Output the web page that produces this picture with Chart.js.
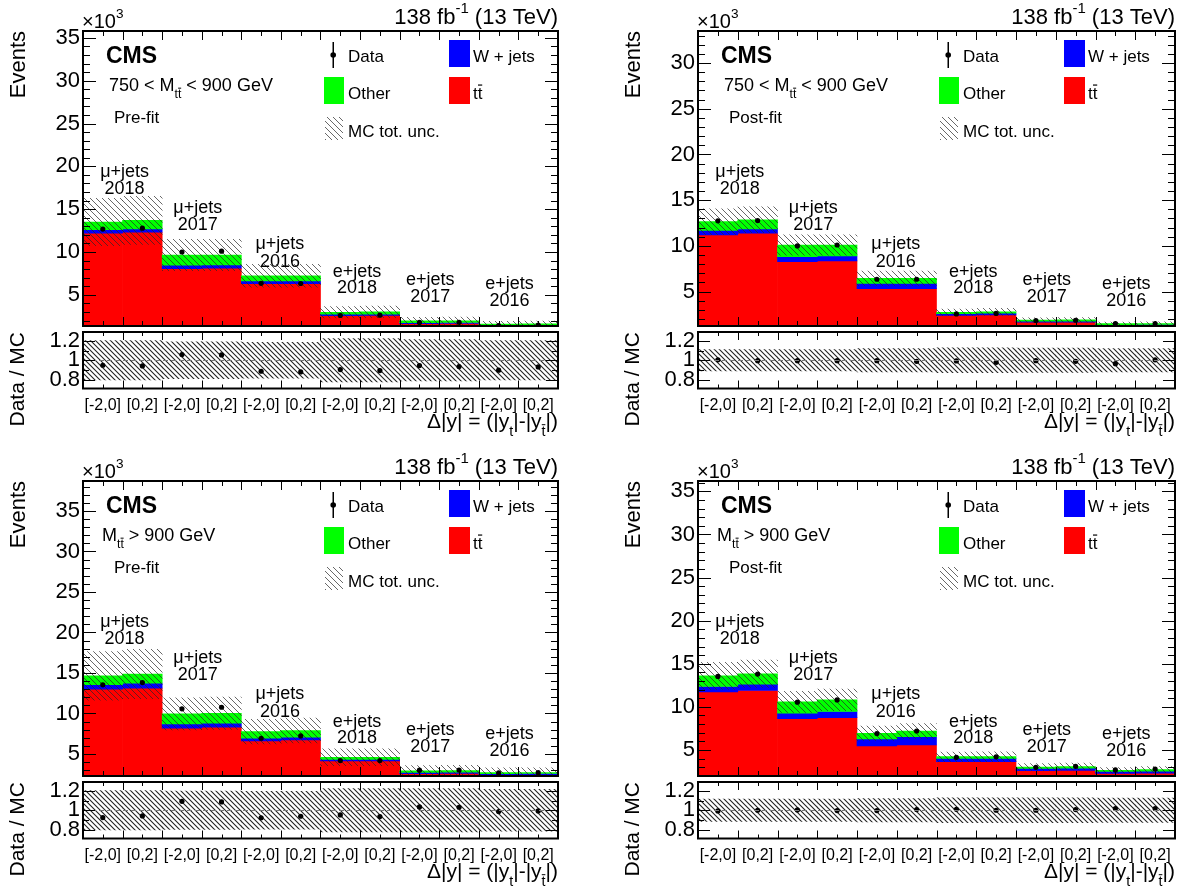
<!DOCTYPE html>
<html>
<head>
<meta charset="utf-8">
<title>Delta|y| pre-fit / post-fit</title>
<script src="https://cdn.jsdelivr.net/npm/chart.js@4.4.1/dist/chart.umd.min.js"></script>
<style>
  body { margin: 0; background: #fff; }
  #wrap { position: relative; width: 1188px; height: 889px; overflow: hidden; }
  canvas { position: absolute; }
</style>
</head>
<body>
<div id="wrap"></div>
<script>
// bins: Delta|y| ranges, two per channel/year block
const bins = ['[-2,0]', '[0,2]', '[-2,0]', '[0,2]', '[-2,0]', '[0,2]',
              '[-2,0]', '[0,2]', '[-2,0]', '[0,2]', '[-2,0]', '[0,2]'];
const chanName = ['μ+jets', 'μ+jets', 'μ+jets', 'e+jets', 'e+jets', 'e+jets'];
const chanYear = ['2018', '2017', '2016', '2018', '2017', '2016'];

// yields in 10^3 events
// 750 < M_tt < 900 GeV, pre-fit
const ttPre750    = [12.2, 12.3, 8.05, 8.1, 6.3, 6.3, 2.57, 2.6, 1.63, 1.65, 1.40, 1.42];
const wjPre750    = [0.4, 0.4, 0.4, 0.4, 0.32, 0.32, 0.16, 0.15, 0.12, 0.12, 0.08, 0.08];
const otherPre750 = [0.9, 1.0, 1.2, 1.15, 0.6, 0.6, 0.24, 0.25, 0.2, 0.2, 0.1, 0.1];
const dataPre750  = [12.68, 12.78, 10.0, 10.09, 6.34, 6.32, 2.6, 2.62, 1.78, 1.8, 1.42, 1.46];
const ratioPre750 = [0.948, 0.941, 1.059, 1.055, 0.886, 0.879, 0.903, 0.893, 0.945, 0.934, 0.897, 0.931];
const uncPre750   = [0.205, 0.205, 0.19, 0.19, 0.185, 0.185, 0.225, 0.225, 0.215, 0.215, 0.205, 0.205];

// 750 < M_tt < 900 GeV, post-fit
const ttPost750    = [11.2, 11.4, 8.28, 8.36, 5.33, 5.33, 2.41, 2.45, 1.65, 1.66, 1.28, 1.29];
const wjPost750    = [0.5, 0.45, 0.55, 0.54, 0.58, 0.58, 0.18, 0.18, 0.11, 0.11, 0.11, 0.11];
const otherPost750 = [0.96, 1.0, 1.27, 1.2, 0.55, 0.55, 0.15, 0.17, 0.14, 0.14, 0.11, 0.11];
const dataPost750  = [12.74, 12.77, 10.0, 10.1, 6.35, 6.35, 2.56, 2.62, 1.84, 1.87, 1.5, 1.5];
const ratioPost750 = [1.004, 0.996, 0.996, 0.996, 0.996, 0.989, 0.993, 0.978, 0.996, 0.989, 0.964, 1.004];
const uncPost750   = [0.11, 0.11, 0.11, 0.11, 0.12, 0.12, 0.13, 0.13, 0.125, 0.125, 0.12, 0.12];

// M_tt > 900 GeV, pre-fit
const ttPre900    = [13.0, 13.12, 8.18, 8.3, 6.6, 6.73, 4.13, 4.13, 2.58, 2.6, 2.40, 2.42];
const wjPre900    = [0.54, 0.62, 0.53, 0.49, 0.34, 0.33, 0.21, 0.21, 0.15, 0.15, 0.17, 0.17];
const otherPre900 = [1.11, 1.12, 1.24, 1.24, 0.82, 0.83, 0.25, 0.25, 0.19, 0.19, 0.12, 0.12];
const dataPre900  = [13.54, 13.82, 10.57, 10.77, 6.94, 7.23, 4.18, 4.18, 3.0, 3.02, 2.66, 2.69];
const ratioPre900 = [0.924, 0.941, 1.093, 1.086, 0.921, 0.938, 0.952, 0.934, 1.034, 1.031, 0.986, 0.993];
const uncPre900   = [0.205, 0.205, 0.2, 0.2, 0.195, 0.195, 0.225, 0.225, 0.225, 0.225, 0.217, 0.217];

// M_tt > 900 GeV, post-fit
const ttPost900    = [11.74, 11.9, 8.64, 8.76, 5.47, 5.58, 3.64, 3.64, 2.6, 2.63, 2.29, 2.3];
const wjPost900    = [0.62, 0.74, 0.62, 0.7, 0.81, 0.97, 0.39, 0.39, 0.27, 0.27, 0.23, 0.23];
const otherPost900 = [1.24, 1.2, 1.32, 1.35, 0.66, 0.65, 0.19, 0.2, 0.15, 0.17, 0.12, 0.19];
const dataPost900  = [13.53, 13.8, 10.54, 10.81, 6.9, 7.2, 4.15, 4.2, 2.99, 3.1, 2.68, 2.79];
const ratioPost900 = [0.993, 1.0, 1.003, 0.997, 0.997, 1.007, 1.01, 1.0, 1.0, 1.007, 1.017, 1.017];
const uncPost900   = [0.115, 0.115, 0.115, 0.115, 0.12, 0.12, 0.13, 0.13, 0.13, 0.13, 0.125, 0.125];

const FONT = '"Liberation Sans", Arial, Helvetica, sans-serif';
Chart.defaults.font.family = FONT;
Chart.defaults.color = '#000';

const panels = [
  { left: 0,   top: 0,   w: 594, tt: ttPre750,  wj: wjPre750,  other: otherPre750,  data: dataPre750,  ratio: ratioPre750,  unc: uncPre750,  yMin: 1.36, yMax: 35.8, fit: 'Pre-fit',  high: false },
  { left: 615, top: 0,   w: 596, tt: ttPost750, wj: wjPost750, other: otherPost750, data: dataPost750, ratio: ratioPost750, unc: uncPost750, yMin: 1.24, yMax: 33.5, fit: 'Post-fit', high: false },
  { left: 0,   top: 450, w: 594, tt: ttPre900,  wj: wjPre900,  other: otherPre900,  data: dataPre900,  ratio: ratioPre900,  unc: uncPre900,  yMin: 2.28, yMax: 38.7, fit: 'Pre-fit',  high: true },
  { left: 615, top: 450, w: 596, tt: ttPost900, wj: wjPost900, other: otherPost900, data: dataPost900, ratio: ratioPost900, unc: uncPost900, yMin: 1.98, yMax: 36.2, fit: 'Post-fit', high: true }
];

// "\\\\" hatching like ROOT fill style 3004
function hatchPattern(color, gap, lw) {
  const c = document.createElement('canvas');
  c.width = c.height = gap;
  const g = c.getContext('2d');
  g.strokeStyle = color;
  g.lineWidth = lw;
  g.beginPath();
  g.moveTo(-1, -1); g.lineTo(gap + 1, gap + 1);
  g.moveTo(-1, gap - 1); g.lineTo(1, gap + 1);
  g.moveTo(gap - 1, -1); g.lineTo(gap + 1, 1);
  g.stroke();
  return g.createPattern(c, 'repeat');
}
const hatchMain = hatchPattern('rgba(40,40,40,0.7)', 6, 1);
const hatchRatio = hatchPattern('#222', 5, 1.1);

// small rich-text helper: sub/superscripts and overbars
function rich(ctx, x, y, parts, size, align, bold) {
  const font = s => (bold ? 'bold ' : '') + s + 'px ' + FONT;
  const items = parts.map(p => typeof p === 'string' ? { t: p } : Object.assign({}, p));
  let w = 0;
  items.forEach(it => {
    it.s = (it.sub || it.sup) ? size * 0.68 : size;
    ctx.font = font(it.s);
    it.w = ctx.measureText(it.t).width;
    w += it.w;
  });
  let cx = align === 'right' ? x - w : align === 'center' ? x - w / 2 : x;
  ctx.textAlign = 'left';
  ctx.textBaseline = 'alphabetic';
  items.forEach(it => {
    ctx.font = font(it.s);
    const dy = it.sub ? size * 0.4 : it.sup ? -size * 0.5 : 0;
    ctx.fillText(it.t, cx, y + dy);
    if (it.bar) {
      const by = y + dy - it.s * 0.82;
      ctx.save();
      ctx.lineWidth = Math.max(1, it.s * 0.07);
      ctx.strokeStyle = ctx.fillStyle;
      ctx.beginPath();
      ctx.moveTo(cx + it.w * 0.05, by);
      ctx.lineTo(cx + it.w * 0.95, by);
      ctx.stroke();
      ctx.restore();
    }
    cx += it.w;
  });
}

function drawTicks(chart, o) {
  const { ctx, chartArea: a, scales: { x, y } } = chart;
  ctx.save();
  ctx.strokeStyle = '#000';
  ctx.lineWidth = 1;
  ctx.beginPath();
  const n0 = Math.ceil(y.min / o.minor - 1e-9), n1 = Math.floor(y.max / o.minor + 1e-9);
  for (let n = n0; n <= n1; n++) {
    const v = n * o.minor;
    const major = Math.abs(v / o.major - Math.round(v / o.major)) < 1e-6;
    const len = major ? o.yMaj : o.yMin;
    const py = Math.round(y.getPixelForValue(v)) + 0.5;
    ctx.moveTo(a.left, py); ctx.lineTo(a.left + len, py);
    ctx.moveTo(a.right, py); ctx.lineTo(a.right - len, py);
  }
  const half = (x.getPixelForValue(1) - x.getPixelForValue(0)) / 2;
  for (let i = 0; i < bins.length; i++) {
    const c = x.getPixelForValue(i);
    const marks = [[c, o.xMin]];
    if (i > 0) marks.push([c - half, o.xMaj]);
    marks.forEach(([px, len]) => {
      px = Math.round(px) + 0.5;
      ctx.moveTo(px, a.bottom); ctx.lineTo(px, a.bottom - len);
      ctx.moveTo(px, a.top); ctx.lineTo(px, a.top + len);
    });
  }
  ctx.stroke();
  ctx.lineWidth = 2;
  ctx.strokeRect(a.left, a.top, a.right - a.left, a.bottom - a.top);
  ctx.restore();
}

function fitTicks(step) {
  return s => {
    s.ticks = s.ticks.filter(t => Math.abs(t.value / step - Math.round(t.value / step)) < 1e-6);
  };
}

// fixed axis width, and no extra label padding around the plot area
function fixWidth(s) {
  s.width = 83;
  s.paddingTop = 0;
  s.paddingBottom = 0;
}

const TT = ['t', { t: 't', bar: true }];
const TTsub = [{ t: 't', sub: true }, { t: 't', sub: true, bar: true }];

function mainDecor(p) {
  return {
    id: 'mainDecor',
    afterDatasetsDraw(chart) {
      drawTicks(chart, { minor: 1, major: 5, yMaj: 13, yMin: 7, xMaj: 9, xMin: 5 });
    },
    afterDraw(chart) {
      const ctx = chart.ctx, a = chart.chartArea, L = a.left, T = a.top, R = a.right;
      ctx.save();
      ctx.fillStyle = '#000';
      rich(ctx, L - 1, T - 3, ['×10', { t: '3', sup: true }], 20);
      rich(ctx, R, T - 7, ['138 fb', { t: '-1', sup: true }, ' (13 TeV)'], 22, 'right');
      rich(ctx, L + 23, T + 32, ['CMS'], 23, 'left', true);
      const mass = p.high ? ['M'].concat(TTsub, [' > 900 GeV']) : ['750 < M'].concat(TTsub, [' < 900 GeV']);
      rich(ctx, L + (p.high ? 19 : 26), T + 60, mass, 18);
      rich(ctx, L + 31, T + 92, [p.fit], 17);

      // legend
      ctx.fillStyle = '#000';
      ctx.fillRect(L + 249.5, T + 11, 1.5, 26);
      ctx.beginPath(); ctx.arc(L + 250.2, T + 24, 2.8, 0, Math.PI * 2); ctx.fill();
      rich(ctx, L + 265, T + 31, ['Data'], 17);
      ctx.fillStyle = '#0000ff'; ctx.fillRect(L + 366, T + 9, 21, 27);
      ctx.fillStyle = '#000'; rich(ctx, L + 390, T + 31, ['W + jets'], 17);
      ctx.fillStyle = '#00ff00'; ctx.fillRect(L + 241, T + 46, 20, 27);
      ctx.fillStyle = '#000'; rich(ctx, L + 265, T + 68, ['Other'], 17);
      ctx.fillStyle = '#ff0000'; ctx.fillRect(L + 366, T + 46, 21, 27);
      ctx.fillStyle = '#000'; rich(ctx, L + 390, T + 68, TT, 17);
      ctx.fillStyle = hatchMain; ctx.fillRect(L + 242, T + 86, 18, 23);
      ctx.fillStyle = '#000'; rich(ctx, L + 265, T + 106, ['MC tot. unc.'], 17);

      // channel / year labels above each pair of bins
      const x = chart.scales.x;
      const dx = [2, -4, -1, -3, -9, -9];
      const ly = [[141, 158], [177, 194], [213, 231], [241, 257], [249, 266], [253, 270]];
      ctx.textAlign = 'center';
      ctx.textBaseline = 'middle';
      ctx.font = '18px ' + FONT;
      chanName.forEach((n, k) => {
        const cx = (x.getPixelForValue(2 * k) + x.getPixelForValue(2 * k + 1)) / 2 + dx[k];
        ctx.fillText(n, cx, T + ly[k][0]);
        ctx.fillText(chanYear[k], cx, T + ly[k][1]);
      });
      ctx.restore();
    }
  };
}

const ratioDecor = {
  id: 'ratioDecor',
  afterDatasetsDraw(chart) {
    const { ctx, chartArea: a, scales: { y } } = chart;
    ctx.save();
    ctx.strokeStyle = '#777';
    ctx.lineWidth = 1;
    ctx.setLineDash([5, 3]);
    const py = Math.round(y.getPixelForValue(1)) + 0.5;
    ctx.beginPath(); ctx.moveTo(a.left, py); ctx.lineTo(a.right, py); ctx.stroke();
    ctx.restore();
    drawTicks(chart, { minor: 0.1, major: 0.2, yMaj: 12, yMin: 6, xMaj: 8, xMin: 4 });
  },
  afterDraw(chart) {
    const { ctx, chartArea: a } = chart;
    ctx.save();
    ctx.fillStyle = '#000';
    rich(ctx, a.right, a.top + 96, ['Δ|y| = (|y', { t: 't', sub: true }, '|-|y'].concat(TTsub.slice(1), ['|)']), 21, 'right');
    ctx.restore();
  }
};

const barOpts = { grouped: false, barPercentage: 1, categoryPercentage: 1, borderWidth: 0 };
const wrap = document.getElementById('wrap');

function makeCanvas(left, top, w, h) {
  const c = document.createElement('canvas');
  c.width = w; c.height = h;
  c.style.left = left + 'px';
  c.style.top = top + 'px';
  wrap.appendChild(c);
  return c;
}

panels.forEach(p => {
  const tot = p.tt.map((v, i) => v + p.wj[i] + p.other[i]);
  const padRight = p.w - 83 - (p.w === 594 ? 475 : 477);

  new Chart(makeCanvas(p.left, p.top, p.w, 330), {
    type: 'bar',
    data: {
      labels: bins,
      datasets: [
        { type: 'line', label: 'Data', data: p.data, showLine: false, pointRadius: 2.6,
          pointBackgroundColor: '#000', pointBorderWidth: 0, order: 0 },
        { label: 'MC tot. unc.', data: tot.map((t, i) => [t * (1 - p.unc[i]), t * (1 + p.unc[i])]),
          backgroundColor: hatchMain, order: 1 },
        { label: 'Other', data: tot.map((t, i) => [t - p.other[i], t]), backgroundColor: '#00ff00', order: 2 },
        { label: 'W + jets', data: p.tt.map((v, i) => [v, v + p.wj[i]]), backgroundColor: '#0000ff', order: 3 },
        { label: 'tt', data: p.tt, backgroundColor: '#ff0000', order: 4 }
      ]
    },
    options: {
      responsive: false, animation: false, events: [],
      layout: { padding: { top: 31, right: padRight, bottom: 4, left: 0 } },
      datasets: { bar: barOpts },
      plugins: { legend: { display: false }, tooltip: { enabled: false } },
      scales: {
        x: { display: false },
        y: {
          min: p.yMin, max: p.yMax,
          ticks: { stepSize: 5, includeBounds: false, autoSkip: false, padding: 3, font: { size: 22 }, callback: v => String(Math.round(v)) },
          grid: { display: false, drawTicks: false }, border: { display: false },
          title: { display: true, text: 'Events', align: 'end', font: { size: 22 }, padding: { top: 6, bottom: 0 } },
          afterBuildTicks: fitTicks(5),
          afterFit: fixWidth
        }
      }
    },
    plugins: [mainDecor(p)]
  });

  // ratio pad: canvas starts 10px above the bottom of the main canvas (both transparent)
  new Chart(makeCanvas(p.left, p.top + 320, p.w, 119), {
    type: 'bar',
    data: {
      labels: bins,
      datasets: [
        { type: 'line', label: 'Data / MC', data: p.ratio, showLine: false, pointRadius: 2.6,
          pointBackgroundColor: '#000', pointBorderWidth: 0, order: 0 },
        { label: 'MC unc.', data: p.unc.map(u => [1 - u, 1 + u]), backgroundColor: hatchRatio, order: 1 }
      ]
    },
    options: {
      responsive: false, animation: false, events: [],
      layout: { padding: { top: 12, right: padRight, bottom: 0, left: 0 } },
      datasets: { bar: barOpts },
      plugins: { legend: { display: false }, tooltip: { enabled: false } },
      scales: {
        x: {
          ticks: { font: { size: 16 }, maxRotation: 0, autoSkip: false, padding: 7 },
          grid: { display: false, drawTicks: false }, border: { display: false },
          afterFit: s => { s.height = 50.5; s.paddingLeft = 0; s.paddingRight = 0; }
        },
        y: {
          min: 0.707, max: 1.293,
          ticks: { stepSize: 0.2, includeBounds: false, autoSkip: false, padding: 3, font: { size: 22 }, callback: v => String(+v.toFixed(1)) },
          grid: { display: false, drawTicks: false }, border: { display: false },
          title: { display: true, text: 'Data / MC', align: 'end', font: { size: 21 }, padding: { top: 6, bottom: 0 } },
          afterBuildTicks: fitTicks(0.2),
          afterFit: fixWidth
        }
      }
    },
    plugins: [ratioDecor]
  });
});
</script>
</body>
</html>
